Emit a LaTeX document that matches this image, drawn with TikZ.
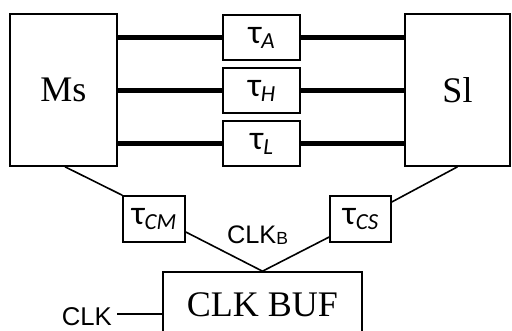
\documentclass[tikz,border=0pt]{standalone}
\usepackage{fontspec}
\usepackage{graphicx}
\setmainfont{Liberation Serif}
\setsansfont{Liberation Sans}
\newfontfamily\tfont{Carlito}
\newcommand{\tlab}[1]{{\tfont\fontsize{34}{34}\selectfont τ\raisebox{-5pt}{\fontsize{23}{23}\selectfont\itshape #1}}}
\begin{document}
\begin{tikzpicture}[x=1pt,y=-1pt,
  bigbox/.style={draw,line width=1.6pt,inner sep=0pt,font=\fontsize{36}{36}\selectfont},
  tbox/.style={draw,line width=1.6pt,inner sep=0pt},
  bus/.style={line width=4.5pt},
  wire/.style={line width=1.6pt},
  sflab/.style={inner sep=0pt,font=\sffamily\fontsize{26}{26}\selectfont}]
\useasboundingbox (0,0) rectangle (512,331);
\node[bigbox,minimum width=107pt,minimum height=152pt] (Ms) at (63.5,90) {Ms};
\node[bigbox,minimum width=105pt,minimum height=152pt] (Sl) at (457.5,90) {Sl};
\node[tbox,minimum width=77pt,minimum height=45pt] (tA) at (261.5,37.5) {\tlab{A}};
\node[tbox,minimum width=77pt,minimum height=45pt] (tH) at (261.5,90.5) {\tlab{H}};
\node[tbox,minimum width=77pt,minimum height=45pt] (tL) at (261.5,143.5) {\tlab{L}};
\node[tbox,minimum width=62pt,minimum height=46pt] (tCM) at (154,219) {\tlab{CM}};
\node[tbox,minimum width=61pt,minimum height=46pt] (tCS) at (360.5,219) {\tlab{CS}};
\node[bigbox,minimum width=199pt,minimum height=66pt] (buf) at (262.5,305) {CLK BUF};
\node[sflab] (clkb) at (257.5,235) {\resizebox{61pt}{!}{CLK\raisebox{-1pt}{\fontsize{18}{18}\selectfont B}}};
\node[sflab,anchor=east] (clk) at (112,317) {\resizebox{50pt}{!}{CLK}};
\coordinate (clkend) at ([xshift=5pt,yshift=3pt]clk.east);
% buses
\foreach \t in {tA,tH,tL}{
  \draw[bus] (Ms.east |- \t.west) -- (\t.west);
  \draw[bus] (\t.east) -- (Sl.west |- \t.east);
}
% clock wires
\draw[wire] ([xshift=1.5pt]Ms.south) -- (tCM.north west);
\draw[wire] ([yshift=-13pt]tCM.east) -- (buf.north);
\draw[wire] (buf.north) -- ([yshift=-18pt]tCS.west);
\draw[wire] ([yshift=17pt]tCS.east) -- (Sl.south);
\draw[wire] (clkend) -- (buf.west |- clkend);
\end{tikzpicture}
\end{document}
